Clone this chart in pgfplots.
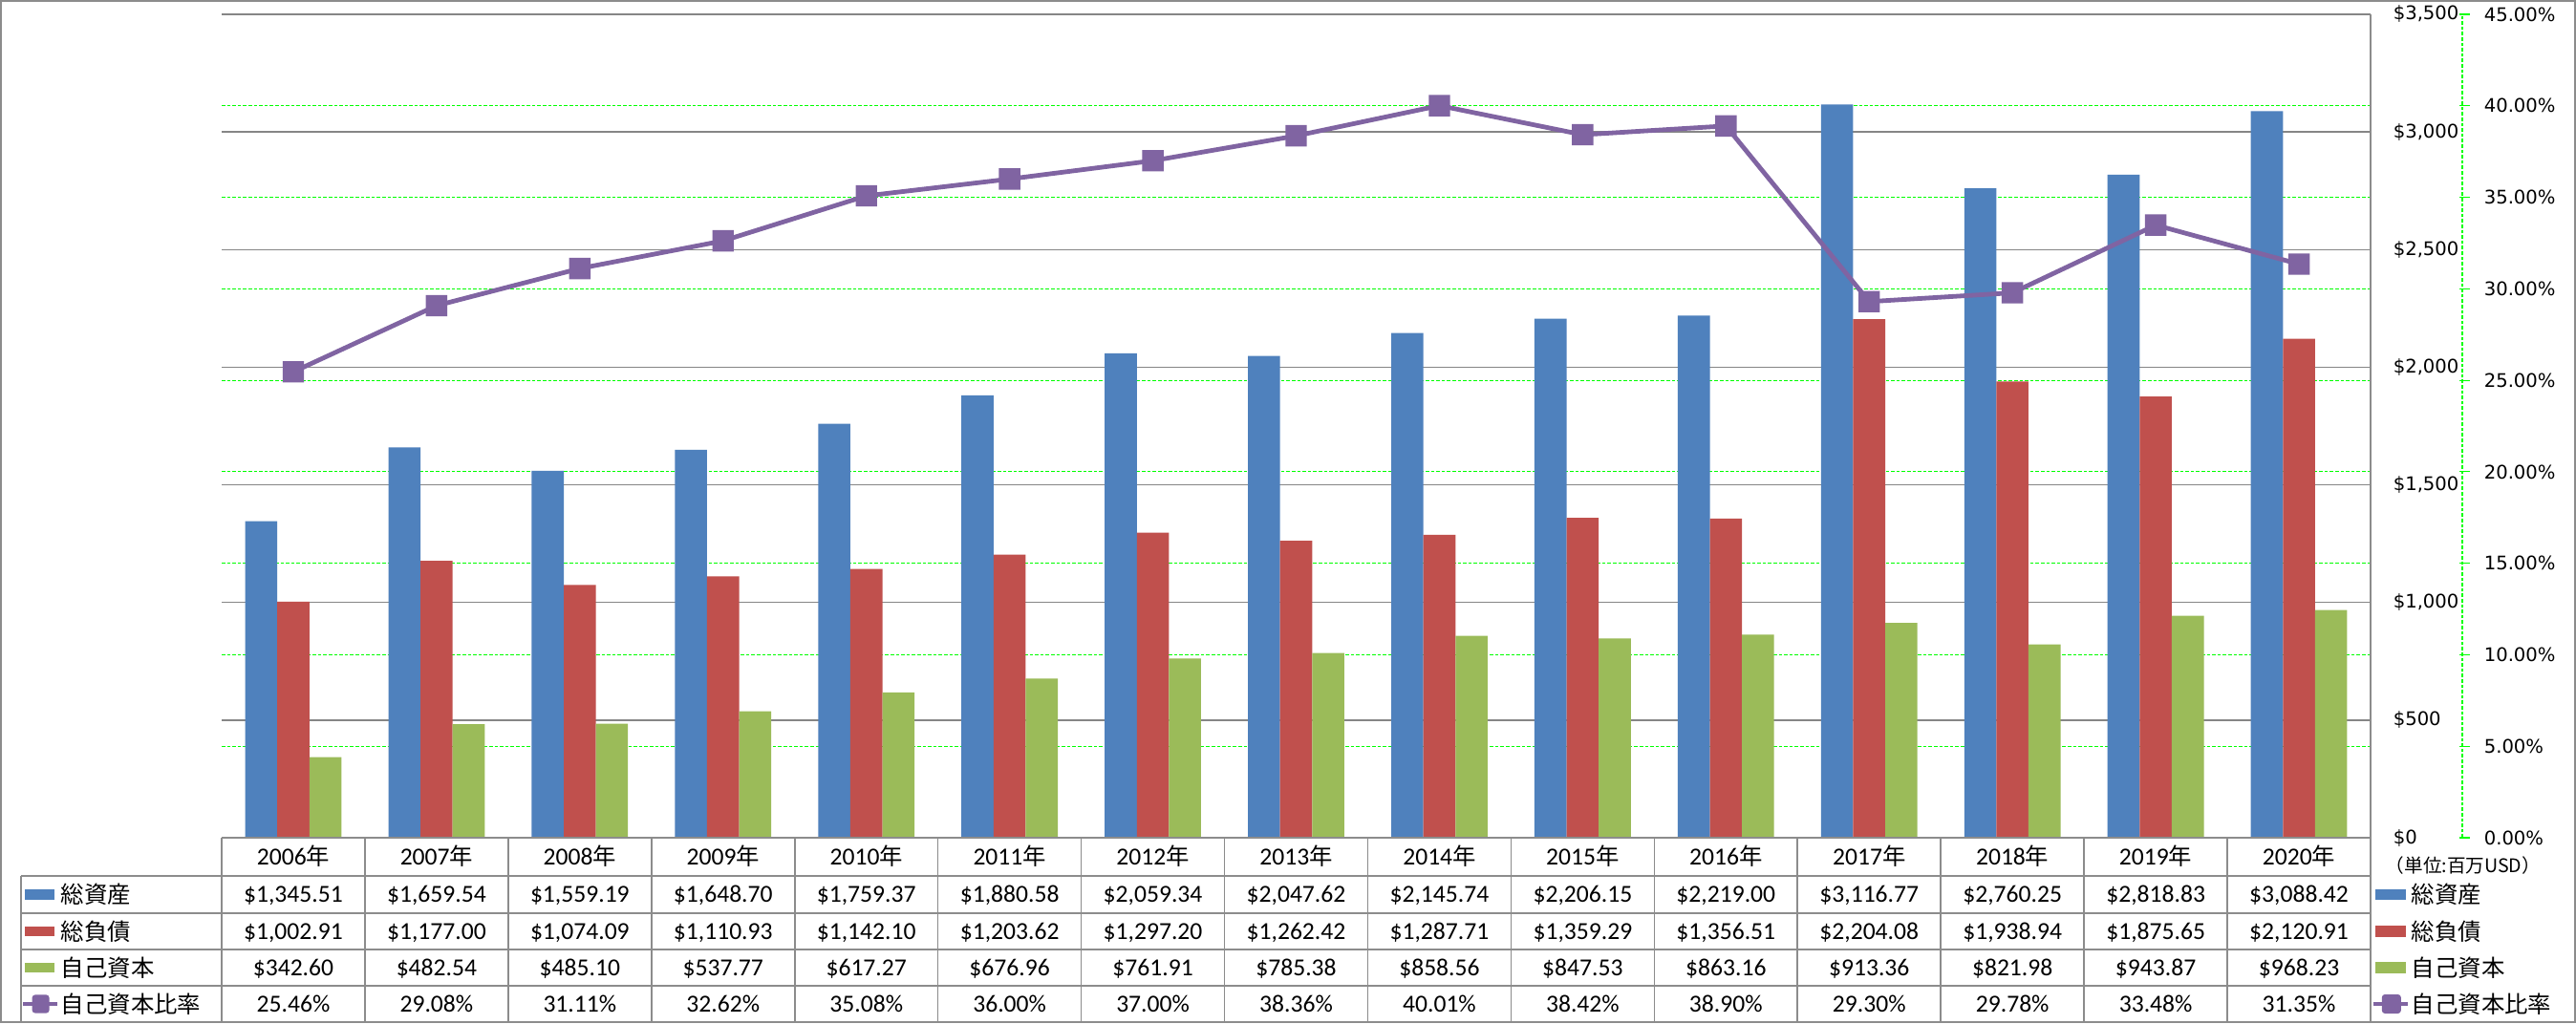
\documentclass[border=0pt]{standalone}
\usepackage{pgfplots}
\pgfplotsset{compat=1.18}
\usepackage{fontspec}
\setmainfont{Carlito}
\newfontfamily\jp{Noto Sans CJK JP}
\newfontfamily\dv{DejaVu Sans}
\definecolor{cblue}{HTML}{4F81BD}
\definecolor{cred}{HTML}{C0504D}
\definecolor{cgreen}{HTML}{9BBB59}
\definecolor{cpurple}{HTML}{8064A2}
\definecolor{gridgray}{HTML}{868686}
\definecolor{gridgreen}{HTML}{00FF00}
\definecolor{tline}{HTML}{8C8C8C}
\pgfdeclareplotmark{rsquare}{%
  \pgfsetcornersarced{\pgfpoint{0.9pt}{0.9pt}}%
  \pgfpathmoveto{\pgfpoint{-\pgfplotmarksize}{0pt}}%
  \pgfpathlineto{\pgfpoint{-\pgfplotmarksize}{-\pgfplotmarksize}}%
  \pgfpathlineto{\pgfpoint{\pgfplotmarksize}{-\pgfplotmarksize}}%
  \pgfpathlineto{\pgfpoint{\pgfplotmarksize}{\pgfplotmarksize}}%
  \pgfpathlineto{\pgfpoint{-\pgfplotmarksize}{\pgfplotmarksize}}%
  \pgfpathclose
  \pgfusepathqfill}
\newcommand{\tabfont}{\fontsize{6.4}{7}\selectfont}
\newcommand{\jpfont}{\jp\fontsize{6.1}{7}\selectfont}
\newcommand{\tickfont}{\dv\fontsize{4.9}{5.5}\selectfont}
\begin{document}
\begin{tikzpicture}
\useasboundingbox (0,0) rectangle (674pt,267.75pt);
\fill[white] (0,0) rectangle (674pt,267.75pt);
\pgfplotsset{base/.style={at={(58pt,48.5pt)},anchor=south west,scale only axis,
  width=562.25pt,height=215.5pt,xmin=-0.5,xmax=14.5,xtick=\empty,
  axis line style={draw=none},major tick length=0pt}}
% secondary axis: green grid and percent labels
\begin{axis}[base, ymin=0, ymax=45, ytick={0,5,...,45}, ymajorgrids,
  major grid style={draw=gridgreen, line width=0.3pt, dash pattern=on 0.9pt off 0.5pt},
  yticklabel pos=right,
  yticklabel style={anchor=west, inner sep=0pt, xshift=29.5pt, font=\tickfont},
  yticklabels={0.00\%,5.00\%,10.00\%,15.00\%,20.00\%,25.00\%,30.00\%,35.00\%,40.00\%,45.00\%}]
\end{axis}
% green secondary axis line with its ticks
\draw[gridgreen, line width=0.3pt, dash pattern=on 0.9pt off 0.5pt] (644.25pt,48.5pt) -- (644.25pt,264pt);
\foreach \k in {0,...,9} \draw[gridgreen, line width=0.3pt] (643.6pt,48.5pt+\k*23.9444pt) -- (646.3pt,48.5pt+\k*23.9444pt);
% primary axis: bars
\begin{axis}[base, ymin=0, ymax=3500, ytick={0,500,...,3500}, ymajorgrids,
  major grid style={draw=gridgray, line width=0.35pt},
  yticklabel pos=right,
  yticklabel style={anchor=west, inner sep=0pt, xshift=5.75pt, font=\tickfont},
  yticklabels={\$0,\$500,{\$1,000},{\$1,500},{\$2,000},{\$2,500},{\$3,000},{\$3,500}},
  ybar=0pt, bar width=8.4pt]
\addplot[fill=cblue, draw=none] coordinates {(0,1345.51) (1,1659.54) (2,1559.19) (3,1648.70) (4,1759.37) (5,1880.58) (6,2059.34) (7,2047.62) (8,2145.74) (9,2206.15) (10,2219.00) (11,3116.77) (12,2760.25) (13,2818.83) (14,3088.42)};
\addplot[fill=cred, draw=none] coordinates {(0,1002.91) (1,1177.00) (2,1074.09) (3,1110.93) (4,1142.10) (5,1203.62) (6,1297.20) (7,1262.42) (8,1287.71) (9,1359.29) (10,1356.51) (11,2204.08) (12,1938.94) (13,1875.65) (14,2120.91)};
\addplot[fill=cgreen, draw=none] coordinates {(0,342.60) (1,482.54) (2,485.10) (3,537.77) (4,617.27) (5,676.96) (6,761.91) (7,785.38) (8,858.56) (9,847.53) (10,863.16) (11,913.36) (12,821.98) (13,943.87) (14,968.23)};
\end{axis}
% line on percent axis
\begin{axis}[base, ymin=0, ymax=45, hide axis]
\addplot[cpurple, line width=1.2pt, mark=rsquare, mark size=2.8pt, mark options={fill=cpurple, draw=none}] coordinates {(0,25.46) (1,29.08) (2,31.11) (3,32.62) (4,35.08) (5,36.00) (6,37.00) (7,38.36) (8,40.01) (9,38.42) (10,38.90) (11,29.30) (12,29.78) (13,33.48) (14,31.35)};
\end{axis}
% outer border and table lines
\draw[tline, line width=0.4pt] (0.2pt,0.2pt) rectangle (673.8pt,267.55pt);
\begin{scope}[tline, line width=0.4pt]
\draw (620.25pt,264pt) -- (620.25pt,0.25pt);
\draw (58pt,48.5pt) -- (620.25pt,48.5pt);
\foreach \y in {38.5,28.75,19.25,9.75,0.25} \draw (5.5pt,\y pt) -- (620.25pt,\y pt);
\draw (5.5pt,38.5pt) -- (5.5pt,0.25pt);
\foreach \i in {0,...,14} \draw (58pt+\i*37.48333pt,48.5pt) -- (58pt+\i*37.48333pt,0.25pt);
\end{scope}
% table text
\foreach \yr/\ta/\tb/\tc/\r [count=\i from 0] in {
 2006/{\$1,345.51}/{\$1,002.91}/{\$342.60}/25.46\%,
 2007/{\$1,659.54}/{\$1,177.00}/{\$482.54}/29.08\%,
 2008/{\$1,559.19}/{\$1,074.09}/{\$485.10}/31.11\%,
 2009/{\$1,648.70}/{\$1,110.93}/{\$537.77}/32.62\%,
 2010/{\$1,759.37}/{\$1,142.10}/{\$617.27}/35.08\%,
 2011/{\$1,880.58}/{\$1,203.62}/{\$676.96}/36.00\%,
 2012/{\$2,059.34}/{\$1,297.20}/{\$761.91}/37.00\%,
 2013/{\$2,047.62}/{\$1,262.42}/{\$785.38}/38.36\%,
 2014/{\$2,145.74}/{\$1,287.71}/{\$858.56}/40.01\%,
 2015/{\$2,206.15}/{\$1,359.29}/{\$847.53}/38.42\%,
 2016/{\$2,219.00}/{\$1,356.51}/{\$863.16}/38.90\%,
 2017/{\$3,116.77}/{\$2,204.08}/{\$913.36}/29.30\%,
 2018/{\$2,760.25}/{\$1,938.94}/{\$821.98}/29.78\%,
 2019/{\$2,818.83}/{\$1,875.65}/{\$943.87}/33.48\%,
 2020/{\$3,088.42}/{\$2,120.91}/{\$968.23}/31.35\%}{
 \pgfmathsetmacro\xc{58+(\i+0.5)*37.48333}
 \node[anchor=base, inner sep=0pt, font=\tabfont] at (\xc pt,41.45pt) {\yr{\jpfont 年}};
 \node[anchor=base, inner sep=0pt, font=\tabfont] at (\xc pt,31.55pt) {\ta};
 \node[anchor=base, inner sep=0pt, font=\tabfont] at (\xc pt,21.95pt) {\tb};
 \node[anchor=base, inner sep=0pt, font=\tabfont] at (\xc pt,12.45pt) {\tc};
 \node[anchor=base, inner sep=0pt, font=\tabfont] at (\xc pt,2.95pt) {\r};
}
% left legend column
\fill[cblue] (6.5pt,32.3pt) rectangle (14.25pt,34.9pt);
\fill[cred] (6.5pt,22.7pt) rectangle (14.25pt,25.3pt);
\fill[cgreen] (6.5pt,13.2pt) rectangle (14.25pt,15.8pt);
\draw[cpurple, line width=1.2pt] (6pt,5pt) -- (15pt,5pt);
\fill[cpurple, rounded corners=0.8pt] (8.4pt,2.6pt) rectangle (12.9pt,7.4pt);
\node[anchor=base west, inner sep=0pt, font=\jpfont] at (15.75pt,31.3pt) {総資産};
\node[anchor=base west, inner sep=0pt, font=\jpfont] at (15.75pt,21.7pt) {総負債};
\node[anchor=base west, inner sep=0pt, font=\jpfont] at (15.75pt,12.2pt) {自己資本};
\node[anchor=base west, inner sep=0pt, font=\jpfont] at (15.75pt,2.7pt) {自己資本比率};
% right legend
\node[anchor=west, inner sep=0pt, font=\jp\fontsize{4.9}{5}\selectfont] at (624pt,41.3pt) {（単位:百万USD）};
\fill[cblue] (621.5pt,32.2pt) rectangle (629.5pt,35pt);
\fill[cred] (621.5pt,22.6pt) rectangle (629.5pt,25.4pt);
\fill[cgreen] (621.5pt,13.1pt) rectangle (629.5pt,15.9pt);
\draw[cpurple, line width=1.2pt] (620.9pt,5pt) -- (629.9pt,5pt);
\fill[cpurple, rounded corners=0.8pt] (623.2pt,2.5pt) rectangle (628.2pt,7.5pt);
\node[anchor=base west, inner sep=0pt, font=\jpfont] at (630.75pt,31.3pt) {総資産};
\node[anchor=base west, inner sep=0pt, font=\jpfont] at (630.75pt,21.7pt) {総負債};
\node[anchor=base west, inner sep=0pt, font=\jpfont] at (630.75pt,12.2pt) {自己資本};
\node[anchor=base west, inner sep=0pt, font=\jpfont] at (630.75pt,2.7pt) {自己資本比率};
\end{tikzpicture}
\end{document}
